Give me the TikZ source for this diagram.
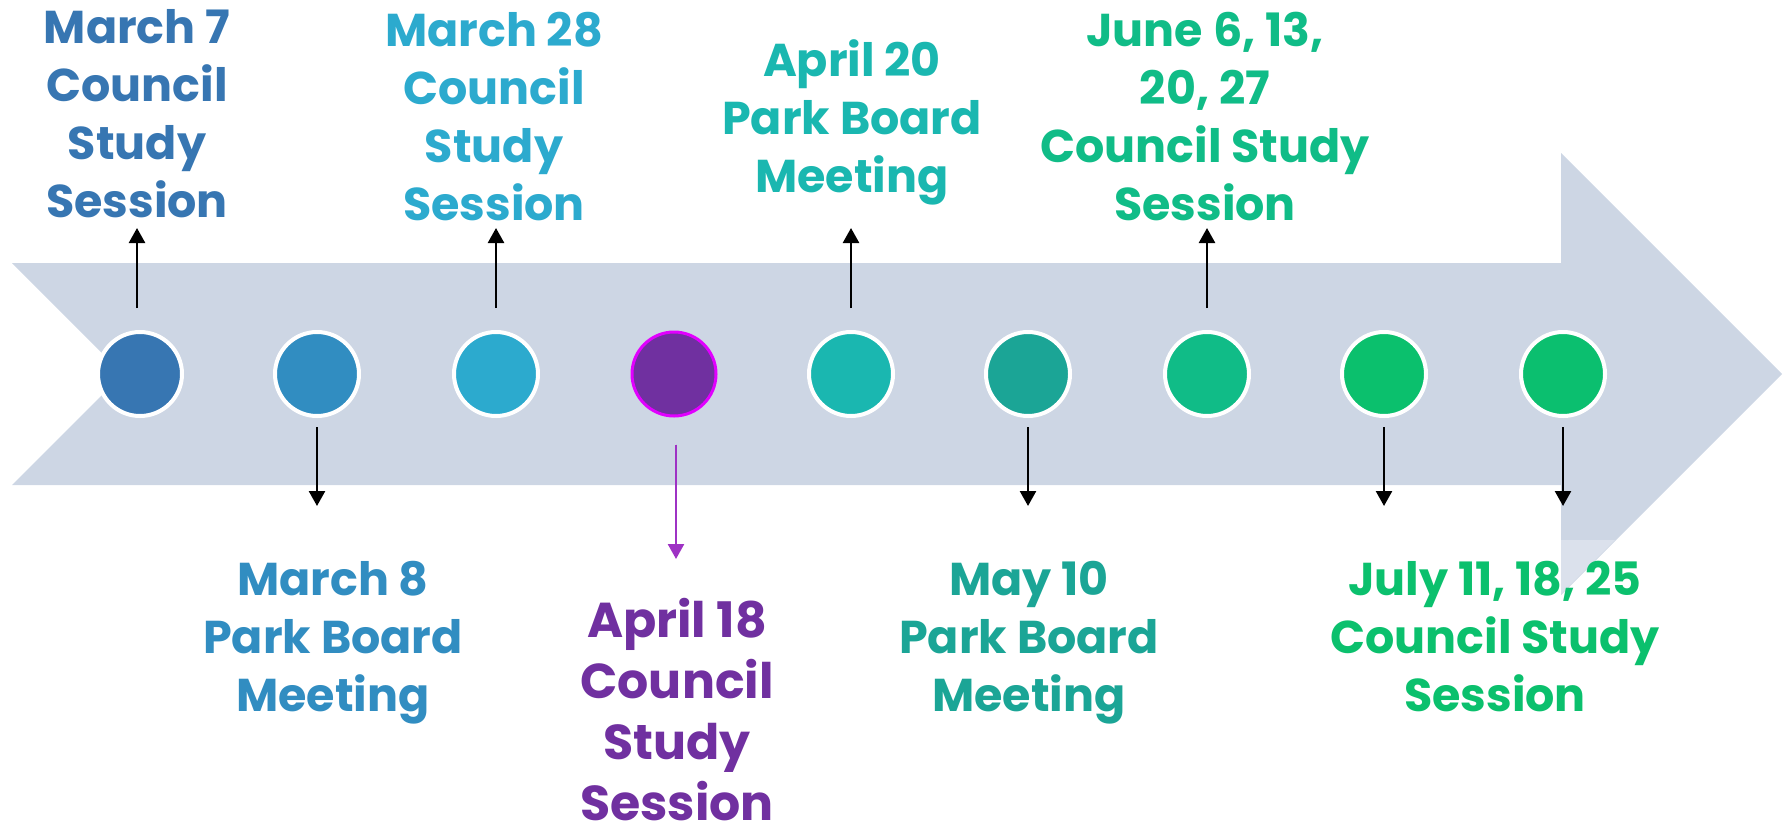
\documentclass[tikz,border=0pt]{standalone}
\usepackage{fontspec}
\setmainfont{Poppins}
\usetikzlibrary{arrows.meta}
\definecolor{band}{HTML}{CDD6E4}
\definecolor{bandlight}{HTML}{DBE1EC}
\definecolor{cA}{HTML}{3776B2}
\definecolor{cB}{HTML}{318DC1}
\definecolor{cC}{HTML}{2CAACE}
\definecolor{cD}{HTML}{7030A0}
\definecolor{cE}{HTML}{1AB7B0}
\definecolor{cF}{HTML}{1BA596}
\definecolor{cG}{HTML}{10BC87}
\definecolor{cH}{HTML}{0BC06D}
\definecolor{cI}{HTML}{0BBF6F}
\definecolor{ring}{HTML}{E100FF}
\definecolor{parrow}{HTML}{9E32C4}
\begin{document}
\begin{tikzpicture}[x=1pt,y=-1pt,
  dot/.style={circle,minimum size=84pt,inner sep=0pt,draw=white,line width=4pt},
  lbl/.style={inner sep=0pt,align=center,font=\fontsize{46}{58}\selectfont\bfseries},
  arr/.style={line width=2.5pt,-{Triangle[width=16pt,length=15pt]}},
]
\useasboundingbox (0,0) rectangle (1787,839);
% big arrow
\fill[band] (12,263) -- (1561,263) -- (1561,153) -- (1782,374) -- (1561,595) -- (1561,485) -- (12,485) -- (123,374) -- cycle;
\fill[bandlight] (1561,540) -- (1615,540) -- (1561,594) -- cycle;
% circles
\node[dot,fill=cA] (c1) at (140,374) {};
\node[dot,fill=cB] (c2) at (317,374) {};
\node[dot,fill=cC] (c3) at (496,374) {};
\node[dot,fill=cD,draw=ring,line width=3pt] (c4) at (674,374) {};
\node[dot,fill=cE] (c5) at (851,374) {};
\node[dot,fill=cF] (c6) at (1028,374) {};
\node[dot,fill=cG] (c7) at (1207,374) {};
\node[dot,fill=cH] (c8) at (1384,374) {};
\node[dot,fill=cI] (c9) at (1563,374) {};
% labels above
\node[lbl,text=cA,anchor=north] (t1) at (137,9) {March 7\\Council\\Study\\Session};
\node[lbl,text=cC,anchor=north] (t3) at (494,12) {March 28\\Council\\Study\\Session};
\node[lbl,text=cE,anchor=north] (t5) at (852,39) {April 20\\Park Board\\Meeting};
\node[lbl,text=cG,anchor=north] (t7) at (1205,12) {June 6, 13,\\20, 27\\Council Study\\Session};
% labels below
\node[lbl,text=cB,anchor=north] (t2) at (333,561) {March 8\\Park Board\\Meeting};
\node[lbl,text=cD,anchor=north,font=\fontsize{49}{61}\selectfont\bfseries] (t4) at (677,598) {April 18\\Council\\Study\\Session};
\node[lbl,text=cF,anchor=north] (t6) at (1029,561) {May 10\\Park Board\\Meeting};
\node[lbl,text=cH,anchor=north] (t8) at (1495,561) {July 11, 18, 25\\Council Study\\Session};
% connectors
\draw[arr,shorten <=22pt] ([xshift=-3pt]c1.north) -- ([xshift=-3pt]c1.north |- 0,228);
\draw[arr,shorten <=22pt] (c3.north) -- (c3.north |- 0,228);
\draw[arr,shorten <=22pt] (c5.north) -- (c5.north |- 0,228);
\draw[arr,shorten <=22pt] (c7.north) -- (c7.north |- 0,228);
\draw[arr,shorten <=9pt] (c2.south) -- (c2.south |- 0,506);
\draw[arr,shorten <=9pt] (c6.south) -- (c6.south |- 0,506);
\draw[arr,shorten <=9pt] (c8.south) -- (c8.south |- 0,506);
\draw[arr,shorten <=9pt] (c9.south) -- (c9.south |- 0,506);
\draw[arr,draw=parrow,fill=parrow,shorten <=27pt] ([xshift=2pt]c4.south) -- ([xshift=2pt]c4.south |- 0,559);
\end{tikzpicture}
\end{document}
